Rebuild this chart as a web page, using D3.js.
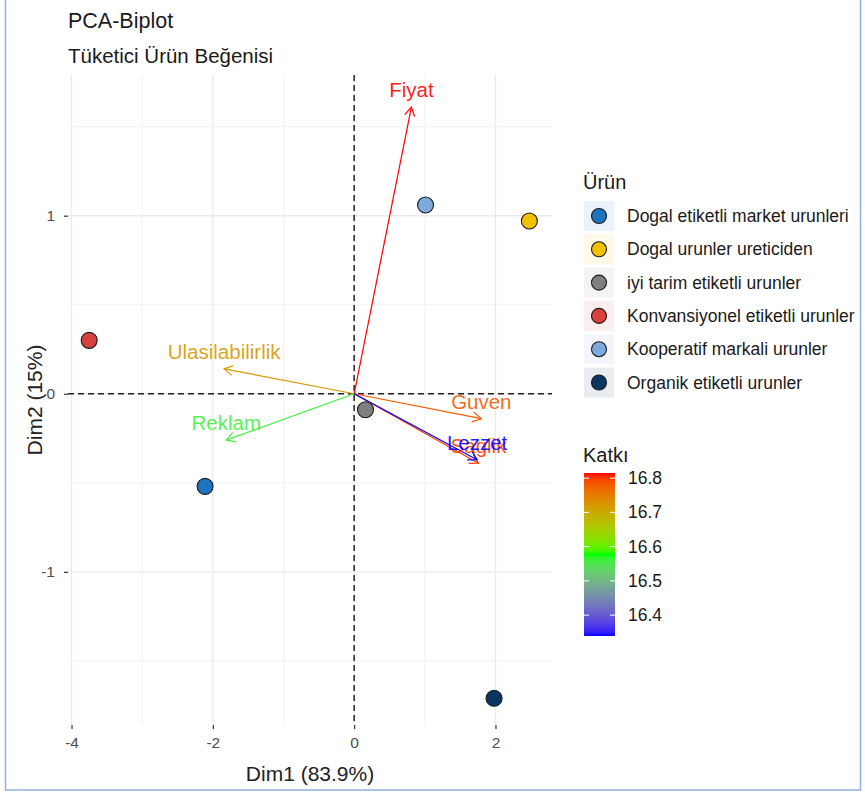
<!DOCTYPE html>
<html>
<head>
<meta charset="utf-8">
<script src="https://cdn.jsdelivr.net/npm/d3@7"></script>
<style>
  html, body { margin: 0; padding: 0; background: #fff; }
  svg { display: block; font-family: "Liberation Sans", Arial, sans-serif; }
</style>
</head>
<body>
<svg id="chart" width="865" height="794"></svg>
<script>
// ---------------- DATA ----------------
const products = [
  "Dogal etiketli market urunleri",
  "Dogal urunler ureticiden",
  "iyi tarim etiketli urunler",
  "Konvansiyonel etiketli urunler",
  "Kooperatif markali urunler",
  "Organik etiketli urunler"
];
const productDim1 = [-2.11, 2.48, 0.16, -3.75, 1.01, 1.98];
const productDim2 = [-0.52, 0.97, -0.09, 0.30, 1.06, -1.71];
const productPalette = ["#1E73BE", "#F2C200", "#808080", "#D9413E", "#7EA9DE", "#0B3661"];

const variables = ["Fiyat", "Ulasilabilirlik", "Reklam", "Guven", "Saglik", "Lezzet"];
const varDim1 = [0.81, -1.84, -1.81, 1.80, 1.76, 1.74];
const varDim2 = [1.61, 0.14, -0.26, -0.14, -0.39, -0.37];
const varContrib = [16.815, 16.72, 16.56, 16.78, 16.80, 16.339];

const xTicks = [-4, -2, 0, 2];
const yTicks = [-1, 0, 1];
const xMinor = [-3, -1, 1];
const yMinor = [-1.5, -0.5, 0.5, 1.5];
const colorbarTicks = [16.4, 16.5, 16.6, 16.7, 16.8];

const titleText = "PCA-Biplot";
const subtitleText = "Tüketici Ürün Beğenisi";
const xTitle = "Dim1 (83.9%)";
const yTitle = "Dim2 (15%)";
const legendTitle = "Ürün";
const colorTitle = "Katkı";

// ---------------- LAYOUT ----------------
const svg = d3.select("#chart");
const P = { left: 68, right: 552, top: 75, bottom: 725 };

const x = d3.scaleLinear().domain([-4.05, 2.80]).range([P.left, P.right]);
const y = d3.scaleLinear().domain([-1.86, 1.79]).range([P.bottom, P.top]);

const cMin = d3.min(varContrib), cMax = d3.max(varContrib);
const color = d3.scaleLinear()
  .domain([cMin, (cMin + cMax) / 2, cMax])
  .range(["blue", "#00FF00", "red"])
  .interpolate(d3.interpolateLab);

// outer frame
svg.append("rect").attr("x", 5.5).attr("y", -2).attr("width", 855).attr("height", 792)
  .attr("fill", "none").attr("stroke", "#8FB2E0").attr("stroke-width", 1.5);

// titles
svg.append("text").attr("x", 68).attr("y", 28).attr("font-size", 21.5).attr("fill", "#1a1a1a").text(titleText);
svg.append("text").attr("x", 68).attr("y", 63).attr("font-size", 20.5).attr("fill", "#1a1a1a").text(subtitleText);

// grid
const grid = svg.append("g");
grid.selectAll(".xmin").data(xMinor).join("line")
  .attr("x1", d => x(d)).attr("x2", d => x(d)).attr("y1", P.top).attr("y2", P.bottom)
  .attr("stroke", "#F2F2F2").attr("stroke-width", 1);
grid.selectAll(".ymin").data(yMinor).join("line")
  .attr("y1", d => y(d)).attr("y2", d => y(d)).attr("x1", P.left).attr("x2", P.right)
  .attr("stroke", "#F2F2F2").attr("stroke-width", 1);
grid.selectAll(".xmaj").data(xTicks).join("line")
  .attr("x1", d => x(d)).attr("x2", d => x(d)).attr("y1", P.top).attr("y2", P.bottom)
  .attr("stroke", "#EBEBEB").attr("stroke-width", 1.4);
grid.selectAll(".ymaj").data(yTicks).join("line")
  .attr("y1", d => y(d)).attr("y2", d => y(d)).attr("x1", P.left).attr("x2", P.right)
  .attr("stroke", "#EBEBEB").attr("stroke-width", 1.4);

// axes
const xAxis = d3.axisBottom(x).tickValues(xTicks).tickSize(4).tickPadding(8).tickFormat(d3.format("d"));
const gx = svg.append("g").attr("transform", `translate(0,${P.bottom})`).call(xAxis);
gx.select(".domain").remove();
gx.selectAll(".tick line").attr("stroke", "#333").attr("stroke-width", 1.2);
gx.selectAll(".tick text").attr("font-size", 15.5).attr("fill", "#4D4D4D")
  .attr("font-family", "Liberation Sans, Arial, sans-serif").text(d => d < 0 ? "-" + Math.abs(d) : d);

const yAxis = d3.axisLeft(y).tickValues(yTicks).tickSize(4).tickPadding(9).tickFormat(d3.format("d"));
const gy = svg.append("g").attr("transform", `translate(${P.left},0)`).call(yAxis);
gy.select(".domain").remove();
gy.selectAll(".tick line").attr("stroke", "#333").attr("stroke-width", 1.2);
gy.selectAll(".tick text").attr("font-size", 15.5).attr("fill", "#4D4D4D")
  .attr("font-family", "Liberation Sans, Arial, sans-serif").text(d => d < 0 ? "-" + Math.abs(d) : d);

svg.append("text").attr("x", (P.left + P.right) / 2).attr("y", 781).attr("text-anchor", "middle")
  .attr("font-size", 21).attr("fill", "#222").text(xTitle);
svg.append("text").attr("transform", `translate(42,${(P.top + P.bottom) / 2}) rotate(-90)`)
  .attr("text-anchor", "middle").attr("font-size", 21).attr("fill", "#222").text(yTitle);

// zero lines
svg.append("line").attr("x1", P.left).attr("x2", P.right).attr("y1", y(0)).attr("y2", y(0))
  .attr("stroke", "#222").attr("stroke-width", 1.5).attr("stroke-dasharray", "6,4");
svg.append("line").attr("x1", x(0)).attr("x2", x(0)).attr("y1", P.top).attr("y2", P.bottom)
  .attr("stroke", "#222").attr("stroke-width", 1.5).attr("stroke-dasharray", "6,4");

// points
const pts = products.map((p, i) => ({ name: p, dx: productDim1[i], dy: productDim2[i], col: productPalette[i] }));
svg.append("g").selectAll("circle").data(pts).join("circle")
  .attr("cx", d => x(d.dx)).attr("cy", d => y(d.dy)).attr("r", 8)
  .attr("fill", d => d.col).attr("stroke", "#1a1a1a").attr("stroke-width", 1.1);

// arrows
const vars = variables.map((v, i) => ({ name: v, dx: varDim1[i], dy: varDim2[i], c: varContrib[i] }));
const ga = svg.append("g");
vars.forEach(d => {
  const x0 = x(0), y0 = y(0), x1 = x(d.dx), y1 = y(d.dy);
  const col = color(d.c);
  const ang = Math.atan2(y1 - y0, x1 - x0);
  const L = 10, a = Math.PI / 6;
  ga.append("line").attr("x1", x0).attr("y1", y0).attr("x2", x1).attr("y2", y1)
    .attr("stroke", col).attr("stroke-width", 1.2);
  ga.append("path")
    .attr("d", `M${x1 - L * Math.cos(ang - a)},${y1 - L * Math.sin(ang - a)} L${x1},${y1} L${x1 - L * Math.cos(ang + a)},${y1 - L * Math.sin(ang + a)}`)
    .attr("fill", "none").attr("stroke", col).attr("stroke-width", 1.2);
});
ga.selectAll("text").data(vars).join("text")
  .attr("x", d => x(d.dx)).attr("y", d => y(d.dy) - 10).attr("text-anchor", "middle")
  .attr("font-size", 20.5).attr("fill", d => color(d.c)).attr("fill-opacity", 0.9).text(d => d.name);

// legend: products
const lg = svg.append("g");
lg.append("text").attr("x", 583).attr("y", 189).attr("font-size", 20).attr("fill", "#1a1a1a").text(legendTitle);
pts.forEach((d, i) => {
  const cy = 216 + i * 33.3;
  lg.append("rect").attr("x", 584).attr("y", cy - 15).attr("width", 30).attr("height", 30)
    .attr("fill", d.col).attr("fill-opacity", 0.09);
  lg.append("circle").attr("cx", 599).attr("cy", cy).attr("r", 7.5)
    .attr("fill", d.col).attr("stroke", "#1a1a1a").attr("stroke-width", 1.1);
  lg.append("text").attr("x", 627).attr("y", cy + 6).attr("font-size", 17.5).attr("fill", "#1a1a1a").text(d.name);
});

// legend: colorbar
const cb = svg.append("g");
cb.append("text").attr("x", 583).attr("y", 462).attr("font-size", 20).attr("fill", "#1a1a1a").text(colorTitle);
const barTop = 473, barBot = 636, barX = 584, barW = 31;
const cy = d3.scaleLinear().domain([cMin, cMax]).range([barBot, barTop]);
const defs = svg.append("defs");
const grad = defs.append("linearGradient").attr("id", "cgrad").attr("x1", 0).attr("y1", 1).attr("x2", 0).attr("y2", 0);
d3.range(0, 1.0001, 0.02).forEach(t => {
  grad.append("stop").attr("offset", t).attr("stop-color", color(cMin + t * (cMax - cMin)));
});
cb.append("rect").attr("x", barX).attr("y", barTop).attr("width", barW).attr("height", barBot - barTop)
  .attr("fill", "url(#cgrad)");
colorbarTicks.forEach(t => {
  const yy = cy(t);
  cb.append("line").attr("x1", barX).attr("x2", barX + 5).attr("y1", yy).attr("y2", yy).attr("stroke", "#fff").attr("stroke-width", 1);
  cb.append("line").attr("x1", barX + barW - 5).attr("x2", barX + barW).attr("y1", yy).attr("y2", yy).attr("stroke", "#fff").attr("stroke-width", 1);
  cb.append("text").attr("x", 628).attr("y", yy + 6).attr("font-size", 17.5).attr("fill", "#1a1a1a").text(t.toFixed(1));
});
</script>
</body>
</html>
